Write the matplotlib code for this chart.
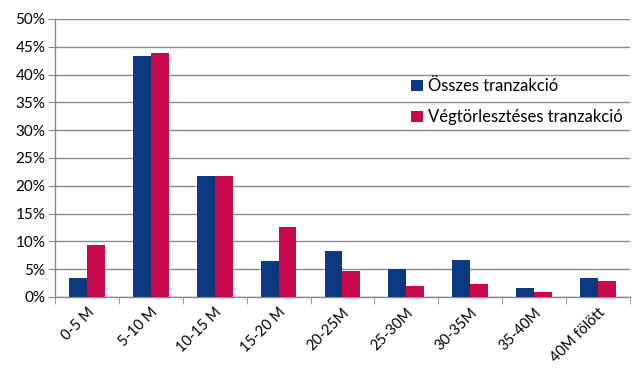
import matplotlib
matplotlib.use("Agg")
import matplotlib.pyplot as plt
import numpy as np
from matplotlib.ticker import FuncFormatter, MultipleLocator

categories = ["0-5 M", "5-10 M", "10-15 M", "15-20 M", "20-25M", "25-30M", "30-35M", "35-40M", "40M fölött"]
osszes = [3.4, 43.4, 21.7, 6.5, 8.2, 5.1, 6.6, 1.7, 3.4]
vegtorleszteses = [9.3, 43.8, 21.7, 12.6, 4.7, 2.0, 2.4, 0.9, 2.8]
series_names = ["Összes tranzakció", "Végtörlesztéses tranzakció"]
colors = ["#0c3a80", "#c8094f"]

plt.rcParams['font.family'] = ['Lato', 'DejaVu Sans']

fig = plt.figure(figsize=(6.4, 3.79), dpi=100)
ax = fig.add_axes([0.0859, 0.2164, 0.8984, 0.7336])

x = np.arange(len(categories))
w = 0.28
ax.bar(x - w/2, osszes, width=w, color=colors[0], label=series_names[0], zorder=3)
ax.bar(x + w/2, vegtorleszteses, width=w, color=colors[1], label=series_names[1], zorder=3)

ax.set_xlim(-0.5, len(categories) - 0.5)
ax.set_ylim(0, 50)
ax.yaxis.set_major_locator(MultipleLocator(5))
ax.yaxis.set_major_formatter(FuncFormatter(lambda v, p: f"{int(round(v))}%"))
ax.grid(axis='y', color='#8a8a8a', linewidth=1.0, zorder=0)
ax.set_axisbelow(True)

ax.set_xticks(x)
ax.set_xticklabels(categories, rotation=45, ha='right', rotation_mode='anchor', fontsize=10.5)
ax.set_xticks(np.arange(-0.5, len(categories), 1.0), minor=True)
ax.tick_params(axis='x', which='major', length=0, pad=6)
ax.tick_params(axis='x', which='minor', length=5, color='#8a8a8a')
ax.tick_params(axis='y', length=5, color='#8a8a8a', labelsize=11, pad=2)

for s in ['top', 'right']:
    ax.spines[s].set_visible(False)
for s in ['left', 'bottom']:
    ax.spines[s].set_color('#8a8a8a')
    ax.spines[s].set_linewidth(1.0)

leg = ax.legend(loc='upper left', bbox_to_anchor=(0.608, 0.81), frameon=False,
                fontsize=12, handlelength=0.7, handleheight=0.7, handletextpad=0.3,
                labelspacing=0.9, borderaxespad=0)

fig.savefig("out.png", dpi=100, facecolor='white')
